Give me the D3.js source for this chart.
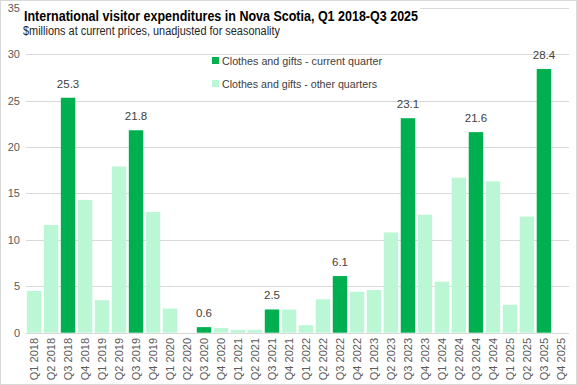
<!DOCTYPE html>
<html>
<head>
<meta charset="utf-8">
<script src="https://cdn.jsdelivr.net/npm/d3@7"></script>
<style>
  body { margin: 0; background: #fff; }
  svg { display: block; font-family: "Liberation Sans", Arial, sans-serif; }
</style>
</head>
<body>
<div id="chart"></div>
<script>
const width = 577;
const height = 385;

// quarters Q1 2018 .. Q4 2025
const years = [2018, 2019, 2020, 2021, 2022, 2023, 2024, 2025];
const quarters = years.flatMap(y => [1, 2, 3, 4].map(q => `Q${q} ${y}`));

// clothes and gifts, $millions (null = no data)
const values = [
  4.5, 11.6, 25.3, 14.3,
  3.5, 17.9, 21.8, 13.0,
  2.6, 0, 0.6, 0.5,
  0.3, 0.3, 2.5, 2.5,
  0.8, 3.6, 6.1, 4.4,
  4.6, 10.8, 23.1, 12.7,
  5.5, 16.7, 21.6, 16.3,
  3.0, 12.5, 28.4, null
];

const yTicks = [0, 5, 10, 15, 20, 25, 30, 35];
const legendLabels = ["Clothes and gifts - current quarter", "Clothes and gifts - other quarters"];
const darkGreen = "#00b050";
const lightGreen = "#bbf7d4";

const data = quarters.map((q, i) => ({ q, v: values[i], current: q.startsWith("Q3") }));

const svg = d3.select("#chart").append("svg")
  .attr("width", width)
  .attr("height", height);

const x = d3.scaleBand()
  .domain(quarters)
  .range([26, 569])
  .paddingInner(0.15)
  .paddingOuter(0.05);

const y = d3.scaleLinear()
  .domain([0, 35])
  .range([332.7, 7.7]);

// gridlines
svg.append("g")
  .selectAll("line")
  .data(yTicks)
  .join("line")
  .attr("x1", 26)
  .attr("x2", 569)
  .attr("y1", d => Math.round(y(d)) + 0.5)
  .attr("y2", d => Math.round(y(d)) + 0.5)
  .attr("stroke", "#d9d9d9")
  .attr("stroke-width", 1);

// y axis labels
svg.append("g")
  .selectAll("text")
  .data(yTicks)
  .join("text")
  .attr("x", 20)
  .attr("y", d => y(d) + 4)
  .attr("text-anchor", "end")
  .attr("font-size", 11)
  .attr("fill", "#595959")
  .text(d => d);

// bars
svg.append("g")
  .selectAll("rect")
  .data(data.filter(d => d.v))
  .join("rect")
  .attr("x", d => x(d.q))
  .attr("width", x.bandwidth())
  .attr("y", d => y(d.v))
  .attr("height", d => y(0) - y(d.v))
  .attr("fill", d => d.current ? darkGreen : lightGreen);

// data labels on current-quarter bars
svg.append("g")
  .selectAll("text")
  .data(data.filter(d => d.current && d.v))
  .join("text")
  .attr("x", d => x(d.q) + x.bandwidth() / 2)
  .attr("y", d => y(d.v) - 10)
  .attr("text-anchor", "middle")
  .attr("font-size", 11.5)
  .attr("fill", "#404040")
  .text(d => d.v.toFixed(1));

// x axis labels (rotated)
svg.append("g")
  .selectAll("text")
  .data(quarters)
  .join("text")
  .attr("transform", d => `translate(${x(d) + x.bandwidth() / 2 + 4},338) rotate(-90)`)
  .attr("text-anchor", "end")
  .attr("font-size", 11)
  .attr("fill", "#595959")
  .text(d => d);

// title block (covers gridline behind it)
svg.append("rect")
  .attr("x", 22).attr("y", 0)
  .attr("width", 398).attr("height", 40)
  .attr("fill", "#fff");

svg.append("text")
  .attr("x", 24).attr("y", 21)
  .attr("font-size", 14.5)
  .attr("font-weight", "bold")
  .attr("fill", "#000")
  .attr("textLength", 394)
  .attr("lengthAdjust", "spacingAndGlyphs")
  .text("International visitor expenditures in Nova Scotia, Q1 2018-Q3 2025");

svg.append("text")
  .attr("x", 23).attr("y", 34.5)
  .attr("font-size", 12)
  .attr("fill", "#262626")
  .attr("textLength", 257)
  .attr("lengthAdjust", "spacingAndGlyphs")
  .text("$millions at current prices, unadjusted for seasonality");

// legend
const legend = svg.append("g")
  .selectAll("g")
  .data(legendLabels)
  .join("g")
  .attr("transform", (d, i) => `translate(212,${57 + i * 23})`);

legend.append("rect")
  .attr("width", 7).attr("height", 7)
  .attr("fill", (d, i) => i === 0 ? darkGreen : lightGreen);

legend.append("text")
  .attr("x", 10).attr("y", 7.5)
  .attr("font-size", 11.5)
  .attr("fill", "#404040")
  .attr("textLength", (d, i) => i === 0 ? 160 : 155)
  .attr("lengthAdjust", "spacingAndGlyphs")
  .text(d => d);

// outer border
svg.append("rect")
  .attr("x", 0.5).attr("y", 0.5)
  .attr("width", width - 1).attr("height", height - 1)
  .attr("fill", "none")
  .attr("stroke", "#d9d9d9");
</script>
</body>
</html>
